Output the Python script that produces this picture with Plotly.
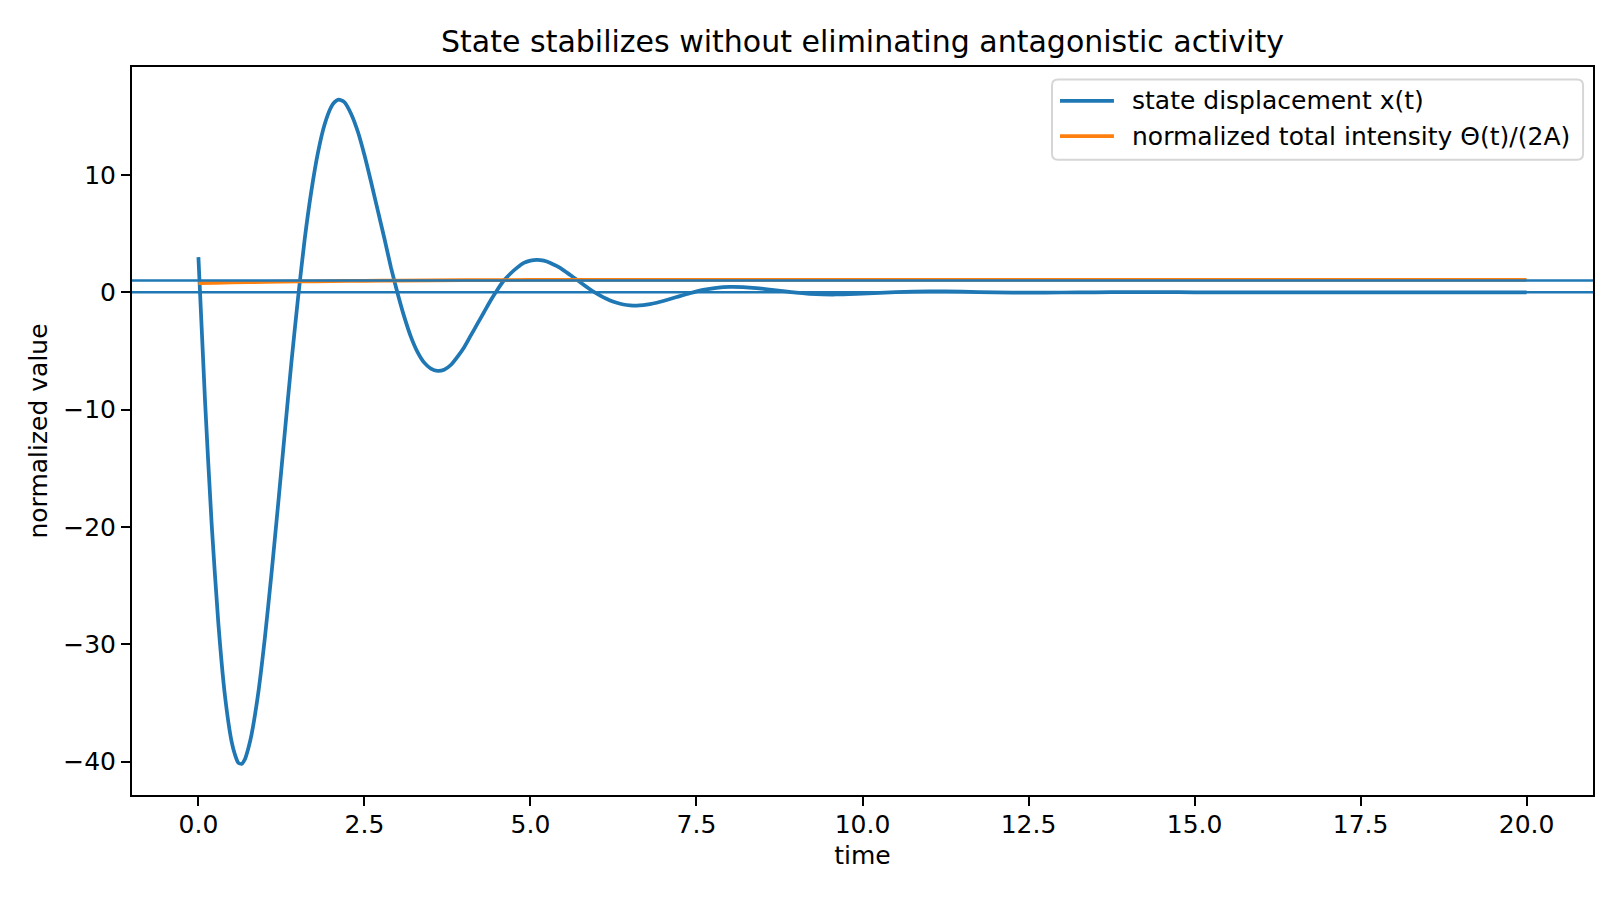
import plotly.graph_objects as go

# state displacement x(t)
t_state = [0.0, 0.1, 0.2, 0.3, 0.4, 0.5, 0.55, 0.6, 0.65, 0.7, 0.75, 0.8, 0.9,
           1.0, 1.1, 1.2, 1.3, 1.4, 1.5, 1.6, 1.7, 1.8, 1.9,
           2.0, 2.05, 2.1, 2.15, 2.2, 2.3, 2.4, 2.5, 2.6, 2.7, 2.8, 2.9,
           3.0, 3.1, 3.2, 3.3, 3.4, 3.5, 3.6, 3.7, 3.8, 3.9,
           4.0, 4.1, 4.2, 4.3, 4.4, 4.5, 4.6, 4.7, 4.8, 4.9,
           5.0, 5.1, 5.2, 5.3, 5.4, 5.5, 5.6, 5.7, 5.8, 5.9,
           6.0, 6.1, 6.2, 6.3, 6.4, 6.5, 6.6, 6.7, 6.8, 6.9,
           7.0, 7.2, 7.4, 7.6, 7.8, 8.0, 8.2, 8.4, 8.6, 8.8,
           9.0, 9.2, 9.4, 9.6, 9.8, 10.0, 10.5, 11.0, 11.5, 12.0,
           12.5, 13.0, 13.5, 14.0, 14.5, 15.0, 16.0, 17.0, 18.0, 19.0, 20.0]
x_state = [3.0, -9.3, -19.8, -28.2, -34.4, -38.3, -39.4, -40.1, -40.2, -39.8, -38.9, -37.7, -34.2,
           -29.5, -24.0, -18.1, -12.0, -6.0, -0.5, 4.5, 8.6, 11.9, 14.3,
           15.8, 16.2, 16.4, 16.37, 16.2, 15.2, 13.7, 11.7, 9.4, 7.0, 4.6, 2.1,
           -0.1, -2.1, -3.8, -5.1, -6.0, -6.5, -6.7, -6.6, -6.2, -5.5,
           -4.7, -3.7, -2.7, -1.7, -0.7, 0.2, 1.0, 1.6, 2.1, 2.5,
           2.7, 2.76, 2.69, 2.5, 2.22, 1.87, 1.47, 1.06, 0.64, 0.24,
           -0.12, -0.44, -0.70, -0.90, -1.04, -1.11, -1.13, -1.09, -1.01, -0.89,
           -0.74, -0.41, -0.08, 0.20, 0.38, 0.46, 0.44, 0.36, 0.23, 0.09,
           -0.04, -0.13, -0.18, -0.19, -0.16, -0.12, 0.02, 0.08, 0.05, -0.01,
           -0.03, -0.02, 0.0, 0.01, 0.01, 0.0, 0.0, 0.0, 0.0, 0.0, 0.0]

# normalized total intensity Theta(t)/(2A)
t_theta = [0.0, 0.25, 0.5, 1.0, 1.5, 2.0, 2.5, 3.0, 4.0, 5.0, 6.0, 8.0, 10.0, 15.0, 20.0]
theta_norm = [0.78, 0.81, 0.84, 0.88, 0.92, 0.95, 0.98, 1.0, 1.03, 1.05, 1.06, 1.06, 1.06, 1.06, 1.06]

ref_levels = [0.0, 1.0]

series_names = ['state displacement x(t)', 'normalized total intensity Θ(t)/(2A)']

blue = '#1f77b4'
orange = '#ff7f0e'
font_family = 'DejaVu Sans'

fig = go.Figure()

fig.add_trace(go.Scatter(
    x=t_state, y=x_state, mode='lines',
    line=dict(color=blue, width=3.75, shape='spline', smoothing=0.6),
    name=series_names[0], showlegend=False
))

fig.add_trace(go.Scatter(
    x=t_theta, y=theta_norm, mode='lines',
    line=dict(color=orange, width=3.75, shape='spline', smoothing=0.6),
    name=series_names[1], showlegend=False
))

# reference lines across the whole axes
for lvl in ref_levels:
    fig.add_hline(y=lvl, line=dict(color=blue, width=2.5))

axis_style = dict(
    showgrid=False, zeroline=False,
    showline=True, mirror=True, linecolor='black', linewidth=2,
    ticks='outside', ticklen=9, tickwidth=2, tickcolor='black',
    tickfont=dict(family=font_family, size=25, color='black'),
)

fig.update_xaxes(
    range=[-1, 21], tick0=0, dtick=2.5, tickformat='.1f',
    ticklabelstandoff=-3,
    title=dict(text='time', font=dict(family=font_family, size=25, color='black'), standoff=8),
    **axis_style
)
fig.update_yaxes(
    range=[-42.85, 19.2], tick0=0, dtick=10,
    ticklabelstandoff=0,
    title=dict(text='normalized value', font=dict(family=font_family, size=25, color='black'), standoff=8),
    **axis_style
)

# legend box drawn like matplotlib's (rounded frame, long handles)
lx0, lx1, ly0, ly1 = 0.6297, 0.9932, 0.8725, 0.9830
rx, ry = 0.0041, 0.0082
frame = (f'M {lx0 + rx},{ly1} L {lx1 - rx},{ly1} Q {lx1},{ly1} {lx1},{ly1 - ry} '
         f'L {lx1},{ly0 + ry} Q {lx1},{ly0} {lx1 - rx},{ly0} '
         f'L {lx0 + rx},{ly0} Q {lx0},{ly0} {lx0},{ly0 + ry} '
         f'L {lx0},{ly1 - ry} Q {lx0},{ly1} {lx0 + rx},{ly1} Z')
fig.add_shape(type='path', path=frame, xref='paper', yref='paper',
              line=dict(color='#d6d6d6', width=2), fillcolor='rgba(255,255,255,0.8)')

row_y = [0.9535, 0.9050]
for name, color, yy in zip(series_names, [blue, orange], row_y):
    fig.add_shape(type='line', xref='paper', yref='paper',
                  x0=0.6352, x1=0.6721, y0=yy, y1=yy,
                  line=dict(color=color, width=3.75))
    fig.add_annotation(text=name, xref='paper', yref='paper', x=0.6831, y=yy,
                       xanchor='left', yanchor='middle', showarrow=False,
                       font=dict(family=font_family, size=25, color='black'))

# page body keeps an 8px margin, so the figure is sized to fit inside it
fig.update_layout(
    width=1604, height=884,
    plot_bgcolor='white', paper_bgcolor='white',
    margin=dict(l=124, r=19, t=59, b=97),
    title=dict(
        text='State stabilizes without eliminating antagonistic activity',
        font=dict(family=font_family, size=30, color='black'),
        x=0.5, xref='paper', xanchor='center', y=0.962, yanchor='middle'
    ),
    showlegend=False,
)

fig.write_html('out.html')
